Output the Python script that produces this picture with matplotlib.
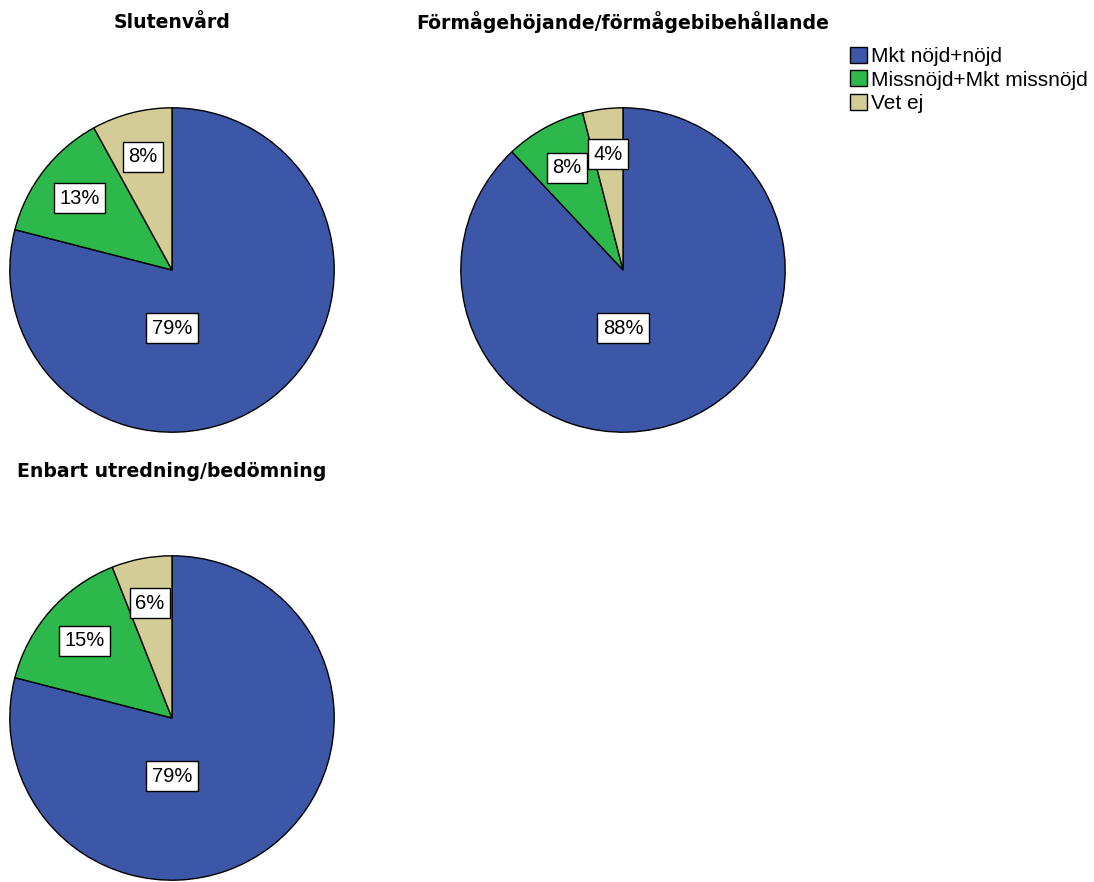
import matplotlib
matplotlib.use("Agg")
import matplotlib.pyplot as plt
from matplotlib.patches import Patch

plt.rcParams['font.family'] = ['Liberation Sans', 'DejaVu Sans']

categories = ["Mkt nöjd+nöjd", "Missnöjd+Mkt missnöjd", "Vet ej"]
colors = ["#3C56A8", "#2DB84B", "#D4CC96"]

titles = ["Slutenvård", "Förmågehöjande/förmågebibehållande", "Enbart utredning/bedömning"]
slutenvard = [79, 13, 8]
formagehojande = [88, 8, 4]
enbart = [79, 15, 6]
series = [slutenvard, formagehojande, enbart]

W, H = 1094, 882
fig = plt.figure(figsize=(W / 100, H / 100), dpi=100)

# pie centres in pixels (layout), radius in pixels
centres = [(172, 270), (623, 270), (172, 718)]
R = 163
title_y = [22, 22, 471]

for vals, title, (cx, cy), ty in zip(series, titles, centres, title_y):
    ax = fig.add_axes([(cx - R) / W, 1 - (cy + R) / H, 2 * R / W, 2 * R / H])
    wedges, texts, autotexts = ax.pie(
        vals, colors=colors, startangle=90, counterclock=False,
        radius=1, autopct=lambda p: f"{p:.0f}%", pctdistance=0.72,
        wedgeprops=dict(edgecolor="black", linewidth=1.0),
        textprops=dict(fontsize=14.5),
    )
    autotexts[0].set_position((0, -0.36))
    for t in autotexts:
        t.set_ha("center")
        t.set_va("center")
        t.set_bbox(dict(boxstyle="square,pad=0.27", facecolor="white", edgecolor="black", linewidth=1.0))
    ax.set_xlim(-1.005, 1.005)
    ax.set_ylim(-1.005, 1.005)
    ax.set_aspect("equal")
    ax.axis("off")
    fig.text(cx / W, 1 - ty / H, title, ha="center", va="center", fontsize=13.6,
             fontweight="bold", family="DejaVu Sans")

handles = [Patch(facecolor=c, edgecolor="black", linewidth=1.0) for c in colors]
fig.legend(handles, categories, loc="upper left", bbox_to_anchor=(850 / W, 1 - 47 / H),
           frameon=False, fontsize=15, handlelength=0.8, handleheight=0.8,
           handletextpad=0.2, labelspacing=0.2, borderaxespad=0, borderpad=0)

fig.savefig("out.png", dpi=100, facecolor="white")
